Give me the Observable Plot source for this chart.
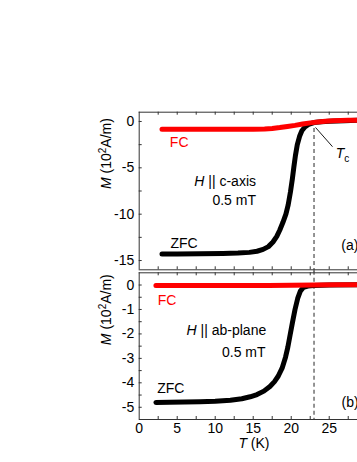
<!DOCTYPE html>
<html><head><meta charset="utf-8">
<script src="https://cdn.jsdelivr.net/npm/d3@7"></script>
<script src="https://cdn.jsdelivr.net/npm/@observablehq/plot@0.6"></script>
<style>
html,body{margin:0;padding:0;background:#fff;overflow:hidden}
#chart{width:357px;height:462px;position:relative}
#chart svg{display:block}
</style></head><body><div id="chart"></div>
<script>
// ---- data ----
const fcA_T = [3, 5, 7, 9, 11, 13, 15, 16.5, 17.5, 18.5, 19.5, 20.5, 21.5, 22.5, 23.5, 24.5, 25.5, 26.5, 27.5, 28.7];
const fcA_M = [-0.85, -0.85, -0.85, -0.85, -0.85, -0.85, -0.84, -0.82, -0.76, -0.66, -0.54, -0.42, -0.27, -0.15, -0.06, 0.02, 0.07, 0.1, 0.12, 0.13];
const zfcA_T = [3, 5, 8, 11, 13, 14.5, 15.5, 16.3, 17, 17.6, 18.1, 18.5, 18.9, 19.3, 19.6, 19.9, 20.15, 20.35, 20.55, 20.8, 21.1, 21.4, 21.8, 22.3, 23, 24, 25, 27, 28.7];
const zfcA_M = [-14.3, -14.3, -14.28, -14.25, -14.2, -14.12, -14.0, -13.8, -13.5, -13.0, -12.4, -11.7, -10.9, -10.0, -9.0, -7.6, -6.2, -4.9, -3.7, -2.5, -1.6, -1.0, -0.6, -0.3, -0.12, -0.03, 0.03, 0.09, 0.12];
const fcB_T = [2.2, 5, 8, 11, 14, 17, 20, 23, 26, 28.7];
const fcB_M = [-0.02, -0.02, -0.02, -0.02, -0.02, -0.02, -0.01, 0, 0.01, 0.01];
const zfcB_T = [2.2, 4, 6, 8, 10, 12, 13.5, 14.6, 15.5, 16.4, 17.2, 17.8, 18.3, 18.8, 19.25, 19.55, 19.85, 20.15, 20.5, 20.85, 21.2, 21.6, 22.2, 23, 25, 28.7];
const zfcB_M = [-4.8, -4.79, -4.78, -4.77, -4.75, -4.71, -4.65, -4.57, -4.48, -4.34, -4.15, -3.95, -3.72, -3.4, -2.95, -2.55, -2.05, -1.55, -1.0, -0.55, -0.25, -0.1, -0.04, -0.02, 0, 0.01];
const Tc = 23;
const xTickLabels = [0, 5, 10, 15, 20, 25];
const xMinorTicks = [2.5, 5, 7.5, 10, 12.5, 15, 17.5, 20, 22.5, 25, 27.5];
const yTicksA = [0, -5, -10, -15];
const yMinorA = [0, -2.5, -5, -7.5, -10, -12.5, -15];
const yTicksB = [0, -1, -2, -3, -4, -5];
const yMinorB = [0, -0.5, -1, -1.5, -2, -2.5, -3, -3.5, -4, -4.5, -5];
const yLabel = "M (10²A/m)";
const xLabel = "T (K)";
const notesA = [
  {text: "FC", T: 4.03, M: -2.26, anchor: "start", color: "#ff0000"},
  {text: "H || c-axis", T: 15.37, M: -6.49, anchor: "end", color: "black"},
  {text: "0.5 mT", T: 15.37, M: -8.54, anchor: "end", color: "black"},
  {text: "ZFC", T: 4.12, M: -13.2, anchor: "start", color: "black"},
  {text: "(a)", T: 26.58, M: -13.38, anchor: "start", color: "black"},
  {text: "Tc", T: 25.85, M: -3.5, anchor: "start", color: "black"}
];
const notesB = [
  {text: "FC", T: 2.45, M: -0.62, anchor: "start", color: "#ff0000"},
  {text: "H || ab-plane", T: 16.71, M: -1.87, anchor: "end", color: "black"},
  {text: "0.5 mT", T: 16.62, M: -2.78, anchor: "end", color: "black"},
  {text: "ZFC", T: 2.37, M: -4.25, anchor: "start", color: "black"},
  {text: "(b)", T: 26.62, M: -4.8, anchor: "start", color: "black"}
];
const tcLeader = [{x1: 23.2, y1: -0.65, x2: 25.43, y2: -2.72}];

// ---- layout ----
const FONT = '"Liberation Sans", Arial, sans-serif';
const W = 357, ML = 138.7, XMAX = 28.72;
const plotW = W - ML;
const AX = "#333";
const rows = (T, M) => T.map((t, i) => ({T: t, M: M[i]}));

const RICH = {
  "M (10²A/m)": '<tspan font-style="italic">M</tspan> (10<tspan dy="-5" font-size="10">2</tspan><tspan dy="5">A/m)</tspan>',
  "H || c-axis": '<tspan font-style="italic">H</tspan> || c-axis',
  "H || ab-plane": '<tspan font-style="italic">H</tspan> || ab-plane',
  "Tc": '<tspan font-style="italic">T</tspan><tspan dy="4" font-size="10">c</tspan>',
  "T (K)": '<tspan font-style="italic">T</tspan> (K)'
};
function enrich(svg) {
  d3.select(svg).selectAll("text").each(function() {
    const t = this.textContent;
    if (RICH[t]) this.innerHTML = RICH[t];
  });
  return svg;
}
const noteMarks = (notes) => [
  Plot.text(notes.filter(d => d.anchor === "start"), {x: "T", y: "M", text: "text", fill: "color", textAnchor: "start"}),
  Plot.text(notes.filter(d => d.anchor === "end"), {x: "T", y: "M", text: "text", fill: "color", textAnchor: "end"})
];
const style = {fontFamily: FONT, fontSize: "14px", color: "black", background: "white", overflow: "visible"};

// top panel
const topH = 271, topMT = 111.7, topMB = 1.7, topPH = topH - topMT - topMB;
const yDomA = [-16, 1];
const topPlot = Plot.plot({
  width: W, height: topH, marginLeft: ML, marginRight: 0, marginTop: topMT, marginBottom: topMB,
  style,
  x: {domain: [0, XMAX], axis: null},
  y: {domain: yDomA},
  marks: [
    Plot.axisY(yTicksA, {tickSize: 0, tickPadding: 5, tickFormat: d => String(d), label: null}),
    Plot.ruleX([Tc], {y1: 0, y2: -16.3, stroke: "#707070", strokeWidth: 1.5, strokeDasharray: "4,3"}),
    Plot.line(rows(zfcA_T, zfcA_M), {x: "T", y: "M", stroke: "black", strokeWidth: 5}),
    Plot.line(rows(fcA_T, fcA_M), {x: "T", y: "M", stroke: "#ff0000", strokeWidth: 5}),
    Plot.ruleY(yDomA, {stroke: AX}),
    Plot.ruleX([0], {stroke: AX}),
    Plot.tickX(xMinorTicks, {x: d => d, insetTop: topPH - 3, stroke: AX}),
    Plot.tickX(xMinorTicks, {x: d => d, insetBottom: topPH - 3, stroke: AX}),
    Plot.tickY(yMinorA, {y: d => d, insetRight: plotW - 3, stroke: AX}),
    Plot.link(tcLeader, {x1: "x1", y1: "y1", x2: "x2", y2: "y2", stroke: "black", strokeWidth: 0.9}),
    ...noteMarks(notesA),
    Plot.text([yLabel], {text: d => d, frameAnchor: "left", dx: -33, dy: -2, rotate: -90})
  ]
});

// bottom panel
const botH = 191, botMT = 1.3, botMB = 43, botPH = botH - botMT - botMB;
const yDomB = [-5.5, 0.5];
const botPlot = Plot.plot({
  width: W, height: botH, marginLeft: ML, marginRight: 0, marginTop: botMT, marginBottom: botMB,
  style,
  x: {domain: [0, XMAX]},
  y: {domain: yDomB},
  marks: [
    Plot.axisY(yTicksB, {tickSize: 0, tickPadding: 5, tickFormat: d => String(d), label: null}),
    Plot.axisX(xTickLabels, {tickSize: 0, tickPadding: 4, tickFormat: d => String(d), label: null}),
    Plot.ruleX([Tc], {y1: 0.56, y2: -5.5, stroke: "#707070", strokeWidth: 1.5, strokeDasharray: "4,3"}),
    Plot.line(rows(zfcB_T, zfcB_M), {x: "T", y: "M", stroke: "black", strokeWidth: 5}),
    Plot.line(rows(fcB_T, fcB_M), {x: "T", y: "M", stroke: "#ff0000", strokeWidth: 5}),
    Plot.ruleY(yDomB, {stroke: AX}),
    Plot.ruleX([0], {stroke: AX}),
    Plot.tickX(xMinorTicks, {x: d => d, insetTop: botPH - 3, stroke: AX}),
    Plot.tickX(xMinorTicks, {x: d => d, insetBottom: botPH - 3, stroke: AX}),
    Plot.tickY(yMinorB, {y: d => d, insetRight: plotW - 3, stroke: AX}),
    ...noteMarks(notesB),
    Plot.text([yLabel], {text: d => d, frameAnchor: "left", dx: -33, dy: -1, rotate: -90}),
    Plot.text([xLabel], {text: d => d, x: 15.1, frameAnchor: "bottom", dy: 28.5})
  ]
});

const host = document.getElementById("chart");
host.appendChild(enrich(topPlot));
host.appendChild(enrich(botPlot));
</script>
</body></html>
